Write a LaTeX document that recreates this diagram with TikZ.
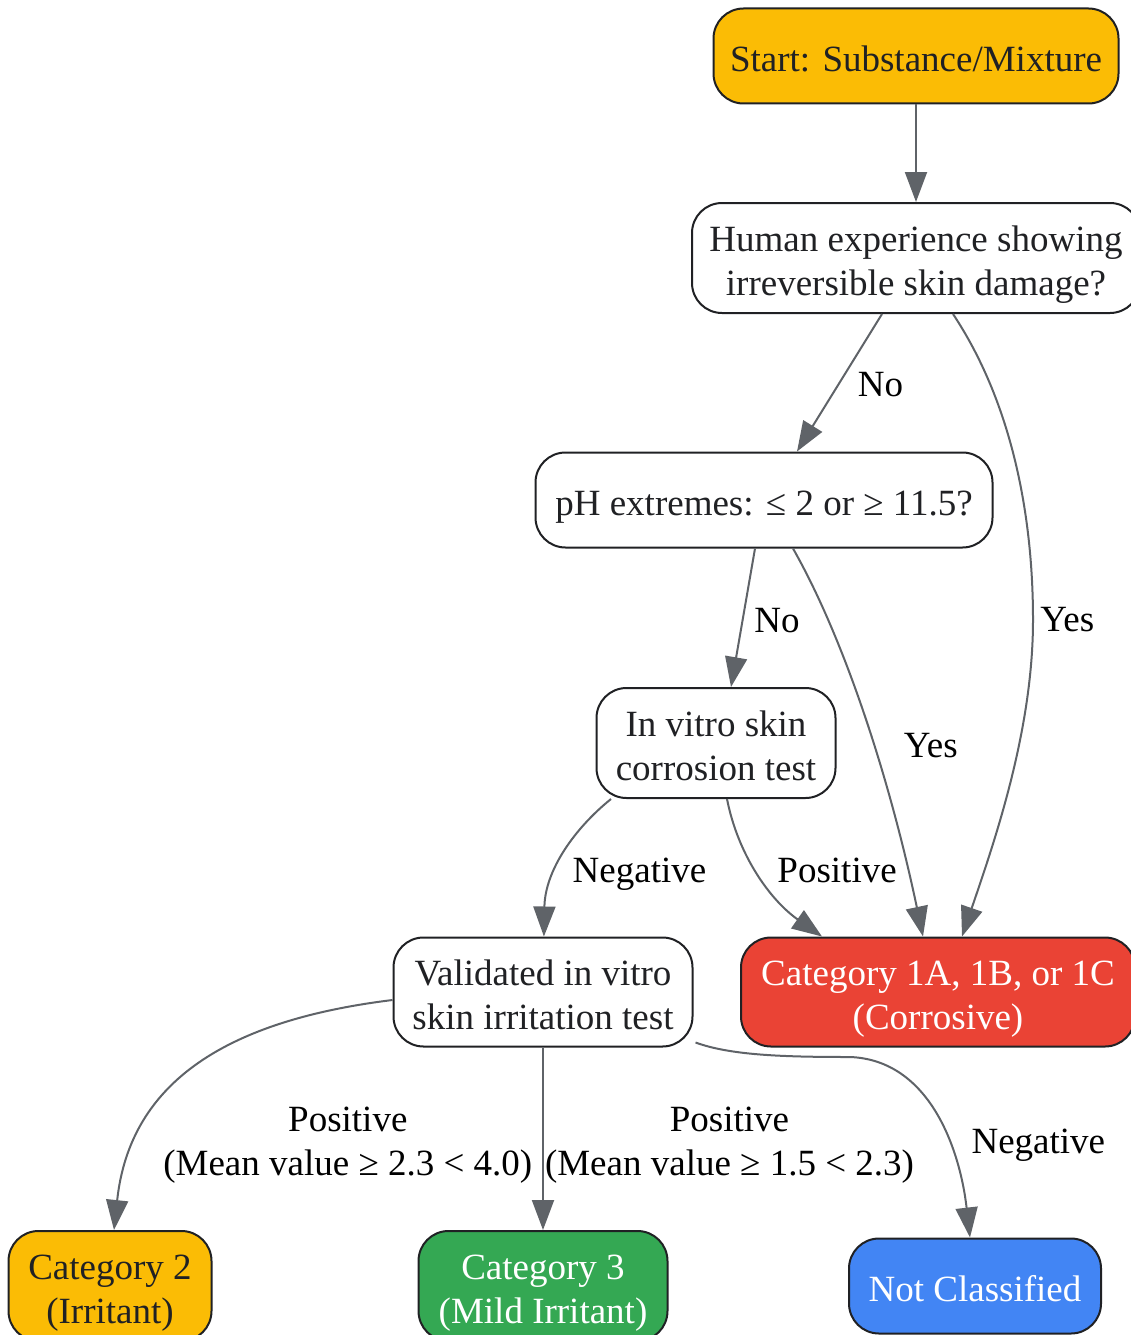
\documentclass[tikz,border=0pt]{standalone}
\usepackage{fontspec}
\setmainfont{Liberation Serif}
\usepackage{tikz}
\usetikzlibrary{arrows.meta, positioning}

\definecolor{gyellow}{HTML}{FBBC05}
\definecolor{gred}{HTML}{EA4335}
\definecolor{ggreen}{HTML}{34A853}
\definecolor{gblue}{HTML}{4285F4}
\definecolor{edgegray}{HTML}{5F6368}
\definecolor{boxline}{HTML}{202124}

\tikzset{
	box/.style={draw=boxline, line width=2pt, rounded corners=30pt, align=center, text=boxline, fill=white, inner sep=0pt, text depth=0pt},
	oneline/.style={text height=31pt},
	twolines/.style={text height=75pt},
	outcome/.style={box, text=white},
	link/.style={->, draw=edgegray, line width=2pt},
}

\begin{document}
\begin{tikzpicture}[x=1pt, y=-1pt, >={Triangle[length=30pt, width=22pt]},
	every node/.style={font=\fontsize{37}{44}\selectfont}]
	\useasboundingbox (0,0) rectangle (1131,1335);

	\node[box, oneline, fill=gyellow, minimum width=405pt, minimum height=95pt] (start) at (916,56) {Start: Substance/Mixture};
	\node[box, twolines, minimum width=448pt, minimum height=110pt] (human) at (916,258) {Human experience showing\\irreversible skin damage?};
	\node[box, oneline, minimum width=457pt, minimum height=95pt] (ph) at (764,500) {pH extremes: ≤ 2 or ≥ 11.5?};
	\node[box, twolines, minimum width=239pt, minimum height=110pt] (invitro) at (716,743) {In vitro skin\\corrosion test};
	\node[box, twolines, minimum width=299pt, minimum height=109pt] (valid) at (543,992) {Validated in vitro\\skin irritation test};
	\node[outcome, twolines, fill=gred, minimum width=394pt, minimum height=109pt] (cat1) at (938,992) {Category 1A, 1B, or 1C\\(Corrosive)};
	\node[box, twolines, fill=gyellow, minimum width=203pt, minimum height=110pt] (cat2) at (110,1286) {Category 2\\(Irritant)};
	\node[outcome, twolines, fill=ggreen, minimum width=249pt, minimum height=110pt] (cat3) at (543,1286) {Category 3\\(Mild Irritant)};
	\node[outcome, oneline, fill=gblue, minimum width=252pt, minimum height=95pt] (notcl) at (975,1286) {Not Classified};

	\draw[link] (start) -- (human);
	\draw[link] ([xshift=-34pt]human.south) -- node[right, xshift=14pt, yshift=-2pt]{No} ([xshift=33pt]ph.north);
	\draw[link] ([xshift=37pt]human.south) .. controls (1010,400) and (1033,510) .. (1033,620) node[right, xshift=3pt]{Yes}
		.. controls (1033,730) and (995,840) .. ([xshift=24pt]cat1.north);
	\draw[link] ([xshift=-9pt]ph.south) -- node[right, xshift=7pt, yshift=-3pt]{No} ([xshift=15pt]invitro.north);
	\draw[link] ([xshift=29pt]ph.south) .. controls (845,640) and (890,780) .. node[pos=0.55, right, xshift=28pt, yshift=-7pt]{Yes} ([xshift=-15pt]cat1.north);
	\draw[link] ([xshift=-105pt]invitro.south) .. controls (575,828) and (545,870) .. node[right, xshift=4pt, yshift=-21pt]{Negative} (valid);
	\draw[link] ([xshift=11pt]invitro.south) .. controls (738,855) and (770,900) .. node[right, xshift=14pt, yshift=5pt]{Positive} ([xshift=-116pt]cat1.north);
	\draw[link] ([yshift=-8pt]valid.west) .. controls (230,1020) and (130,1080) .. ([xshift=4pt]cat2.north)
		node[anchor=south west, align=center, xshift=45pt, yshift=42pt]{Positive\\(Mean value ≥ 2.3 < 4.0)};
	\draw[link] (valid) -- node[right, align=center, inner sep=1pt, yshift=-6pt]{Positive\\(Mean value ≥ 1.5 < 2.3)} (cat3);
	\draw[link] ([xshift=2pt, yshift=5pt]valid.south east) .. controls (730,1055) and (780,1057) .. (850,1057)
		.. controls (930,1060) and (960,1150) .. node[right, xshift=31pt, yshift=-30pt]{Negative} ([xshift=-5pt]notcl.north);
\end{tikzpicture}
\end{document}
